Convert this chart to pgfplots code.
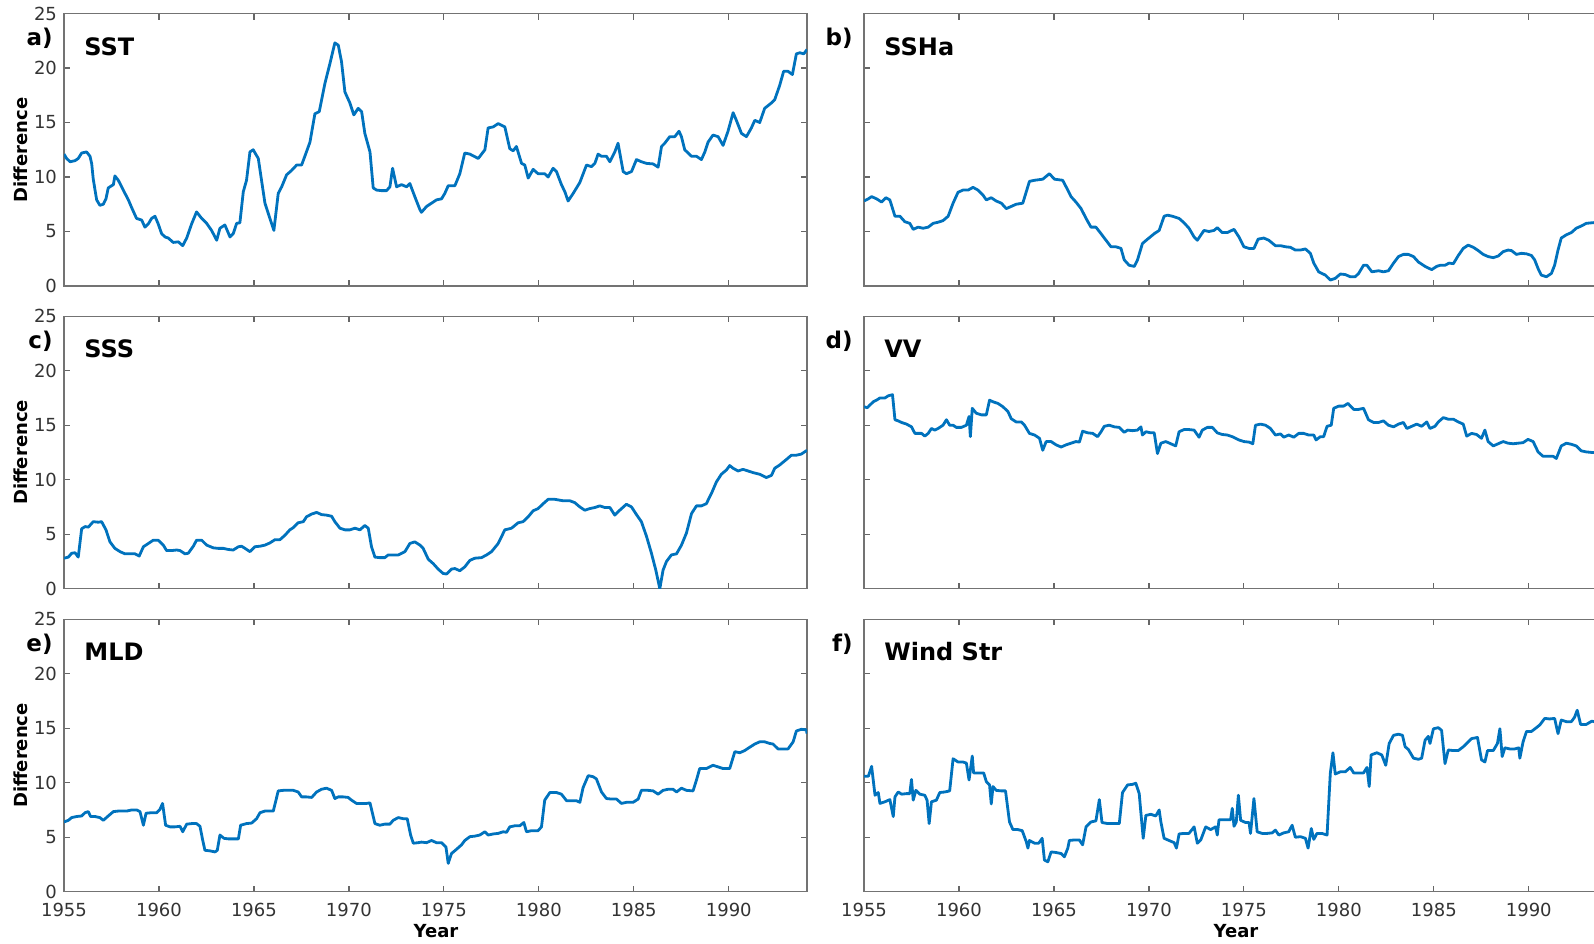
\documentclass[border=0pt]{standalone}
\usepackage{fontspec}
\setmainfont{DejaVu Sans}
\usepackage{pgfplots}
\pgfplotsset{compat=1.18}
\definecolor{mblue}{RGB}{0,114,189}
\pgfplotsset{
  panel/.style={
    scale only axis, width=371.5pt, height=136.25pt,
    anchor=south west,
    xmin=1955, xmax=1994.12, ymin=0, ymax=25,
    xtick={1955,1960,1965,1970,1975,1980,1985,1990},
    ytick={0,5,10,15,20,25},
    tick align=inside,
    major tick length=3pt,
    axis line style={draw=black!55, line width=0.6pt},
    every tick/.append style={draw=black!60, line width=0.6pt},
    tick label style={font=\fontsize{9}{10}\selectfont, text=black!80},
    /pgf/number format/assume math mode=true,
    xticklabels={},
  },
  ln/.style={draw=mblue, line width=1.4pt, line join=round, mark=none},
  bottomx/.style={xticklabels={1955,1960,1965,1970,1975,1980,1985,1990}, xticklabel style={yshift=-2pt}},
  noy/.style={yticklabels={}},
}
\newcommand\lett{\fontsize{11.5}{12}\selectfont\bfseries}
\newcommand\ttl{\fontsize{12}{13}\selectfont\bfseries}
\newcommand\lab{\fontsize{9}{10}\selectfont\bfseries}
\begin{document}
\begin{tikzpicture}
% a) SST
\begin{axis}[panel, at={(32pt,-143pt)}]
\addplot[ln] coordinates {
(1955.00,12.1)(1955.14,11.7)(1955.32,11.4)(1955.58,11.5)(1955.75,11.7)(1955.93,12.2)(1956.19,12.3)(1956.37,11.9)(1956.46,11.2)(1956.54,9.8)(1956.72,7.9)(1956.89,7.4)(1957.07,7.5)(1957.21,8.0)(1957.33,9.0)(1957.60,9.3)(1957.68,10.1)(1957.86,9.7)(1958.12,8.8)(1958.39,7.9)(1958.56,7.2)(1958.82,6.2)(1959.09,6.05)(1959.26,5.4)(1959.44,5.7)(1959.61,6.2)(1959.79,6.4)(1959.96,5.7)(1960.14,4.8)(1960.32,4.5)(1960.49,4.4)(1960.75,4.0)(1961.02,4.05)(1961.25,3.7)(1961.46,4.4)(1961.72,5.7)(1961.98,6.8)(1962.25,6.2)(1962.51,5.75)(1962.77,5.1)(1963.04,4.2)(1963.21,5.3)(1963.47,5.6)(1963.74,4.5)(1963.91,4.8)(1964.09,5.75)(1964.26,5.8)(1964.44,8.65)(1964.61,9.7)(1964.79,12.3)(1964.96,12.5)(1965.23,11.7)(1965.40,9.7)(1965.58,7.6)(1965.84,6.2)(1966.05,5.1)(1966.28,8.5)(1966.46,9.1)(1966.72,10.2)(1966.98,10.6)(1967.25,11.1)(1967.51,11.1)(1967.68,11.9)(1967.95,13.2)(1968.21,15.8)(1968.44,16.0)(1968.74,18.6)(1969.00,20.4)(1969.26,22.3)(1969.44,22.1)(1969.61,20.6)(1969.79,17.8)(1970.05,16.8)(1970.26,15.7)(1970.49,16.3)(1970.67,16.0)(1970.84,14.0)(1971.11,12.3)(1971.28,9.0)(1971.46,8.8)(1971.72,8.75)(1971.98,8.75)(1972.16,9.1)(1972.30,10.8)(1972.51,9.1)(1972.77,9.3)(1973.04,9.1)(1973.21,9.4)(1973.47,8.2)(1973.74,7.0)(1973.82,6.76)(1974.09,7.3)(1974.35,7.6)(1974.61,7.9)(1974.88,8.0)(1975.05,8.5)(1975.23,9.2)(1975.58,9.2)(1975.84,10.3)(1976.10,12.2)(1976.37,12.1)(1976.81,11.7)(1977.16,12.5)(1977.33,14.5)(1977.60,14.6)(1977.86,14.9)(1978.21,14.6)(1978.47,12.6)(1978.65,12.4)(1978.82,12.8)(1979.09,11.25)(1979.26,11.1)(1979.44,9.9)(1979.70,10.7)(1979.96,10.3)(1980.31,10.3)(1980.49,10.0)(1980.75,10.8)(1980.93,10.5)(1981.19,9.3)(1981.37,8.65)(1981.54,7.8)(1981.81,8.5)(1982.16,9.5)(1982.51,11.1)(1982.77,10.95)(1982.95,11.25)(1983.12,12.1)(1983.30,11.9)(1983.56,11.9)(1983.74,11.4)(1984.00,12.3)(1984.17,13.1)(1984.44,10.5)(1984.61,10.3)(1984.88,10.5)(1985.14,11.6)(1985.40,11.4)(1985.67,11.25)(1986.02,11.2)(1986.28,10.9)(1986.46,12.8)(1986.63,13.1)(1986.89,13.7)(1987.16,13.7)(1987.38,14.2)(1987.51,13.7)(1987.68,12.5)(1987.86,12.2)(1988.04,11.9)(1988.30,11.9)(1988.56,11.6)(1988.74,12.3)(1988.91,13.2)(1989.17,13.85)(1989.44,13.7)(1989.70,12.9)(1989.96,14.2)(1990.23,15.9)(1990.40,15.2)(1990.67,14.0)(1990.93,13.7)(1991.19,14.5)(1991.37,15.2)(1991.63,15.0)(1991.89,16.3)(1992.25,16.8)(1992.42,17.1)(1992.68,18.4)(1992.89,19.7)(1993.12,19.7)(1993.35,19.4)(1993.56,21.3)(1993.74,21.4)(1993.95,21.3)(1994.12,21.7)
};
\end{axis}
% b) SSHa
\begin{axis}[panel, noy, at={(432pt,-143pt)}]
\addplot[ln] coordinates {
(1955.00,7.8)(1955.23,8.0)(1955.40,8.2)(1955.66,8.0)(1955.93,7.7)(1956.15,8.1)(1956.36,7.9)(1956.63,6.4)(1956.89,6.4)(1957.15,5.9)(1957.41,5.75)(1957.59,5.2)(1957.85,5.4)(1958.11,5.3)(1958.38,5.4)(1958.64,5.75)(1958.90,5.85)(1959.16,6.0)(1959.43,6.4)(1959.69,7.6)(1959.95,8.6)(1960.21,8.8)(1960.48,8.8)(1960.74,9.05)(1961.00,8.8)(1961.26,8.35)(1961.44,7.9)(1961.70,8.1)(1961.96,7.8)(1962.23,7.6)(1962.49,7.1)(1962.75,7.3)(1963.01,7.5)(1963.36,7.6)(1963.71,9.6)(1963.98,9.7)(1964.41,9.8)(1964.76,10.3)(1965.03,9.8)(1965.46,9.7)(1965.64,9.1)(1965.90,8.2)(1966.16,7.7)(1966.43,7.1)(1966.69,6.2)(1966.95,5.4)(1967.21,5.4)(1967.48,4.8)(1967.74,4.2)(1968.00,3.6)(1968.26,3.6)(1968.53,3.45)(1968.70,2.4)(1968.96,1.9)(1969.23,1.8)(1969.40,2.4)(1969.66,3.9)(1969.93,4.3)(1970.28,4.8)(1970.54,5.1)(1970.80,6.4)(1970.98,6.5)(1971.24,6.4)(1971.59,6.2)(1971.85,5.8)(1972.11,5.3)(1972.38,4.5)(1972.55,4.2)(1972.90,5.1)(1973.16,5.0)(1973.43,5.1)(1973.60,5.35)(1973.86,4.9)(1974.13,4.9)(1974.48,5.2)(1974.74,4.5)(1975.00,3.6)(1975.27,3.45)(1975.53,3.45)(1975.75,4.3)(1976.05,4.4)(1976.31,4.2)(1976.66,3.7)(1976.93,3.7)(1977.19,3.6)(1977.45,3.55)(1977.71,3.3)(1977.98,3.3)(1978.24,3.4)(1978.50,3.0)(1978.68,2.1)(1978.94,1.3)(1979.29,1.0)(1979.55,0.55)(1979.81,0.7)(1980.08,1.1)(1980.34,1.05)(1980.60,0.85)(1980.86,0.85)(1981.04,1.15)(1981.30,1.9)(1981.48,1.9)(1981.74,1.3)(1982.09,1.4)(1982.35,1.3)(1982.61,1.4)(1982.88,2.1)(1983.14,2.7)(1983.40,2.9)(1983.66,2.9)(1983.93,2.7)(1984.19,2.2)(1984.54,1.8)(1984.89,1.5)(1985.15,1.8)(1985.33,1.9)(1985.59,1.9)(1985.80,2.1)(1986.03,2.05)(1986.29,2.8)(1986.55,3.45)(1986.81,3.75)(1987.08,3.55)(1987.34,3.25)(1987.60,2.9)(1987.86,2.7)(1988.13,2.6)(1988.39,2.75)(1988.65,3.15)(1988.91,3.3)(1989.09,3.25)(1989.35,2.9)(1989.61,3.0)(1989.88,2.95)(1990.14,2.8)(1990.31,2.4)(1990.49,1.6)(1990.66,1.0)(1990.93,0.85)(1991.19,1.15)(1991.36,1.9)(1991.54,3.3)(1991.71,4.4)(1991.98,4.7)(1992.24,4.9)(1992.50,5.3)(1992.76,5.5)(1993.03,5.75)(1993.32,5.8)(1993.70,5.85)(1994.10,5.9)
};
\end{axis}
% c) SSS
\begin{axis}[panel, at={(32pt,-294.35pt)}]
\addplot[ln] coordinates {
(1955.00,2.8)(1955.23,2.9)(1955.40,3.25)(1955.58,3.3)(1955.75,2.9)(1955.93,5.5)(1956.11,5.7)(1956.28,5.65)(1956.54,6.15)(1956.81,6.1)(1956.98,6.15)(1957.21,5.4)(1957.42,4.3)(1957.68,3.7)(1957.95,3.4)(1958.21,3.2)(1958.47,3.2)(1958.74,3.2)(1958.96,3.0)(1959.18,3.85)(1959.44,4.15)(1959.70,4.45)(1959.96,4.45)(1960.23,4.0)(1960.40,3.5)(1960.67,3.5)(1960.93,3.55)(1961.11,3.5)(1961.37,3.2)(1961.54,3.25)(1961.81,3.9)(1961.98,4.45)(1962.25,4.45)(1962.51,4.0)(1962.86,3.75)(1963.12,3.7)(1963.39,3.7)(1963.65,3.6)(1963.91,3.55)(1964.18,3.85)(1964.35,3.9)(1964.53,3.7)(1964.79,3.4)(1965.05,3.85)(1965.32,3.9)(1965.58,4.0)(1965.84,4.2)(1966.11,4.5)(1966.37,4.5)(1966.63,4.9)(1966.89,5.4)(1967.07,5.6)(1967.33,6.05)(1967.60,6.15)(1967.77,6.6)(1968.04,6.85)(1968.30,7.0)(1968.56,6.8)(1968.82,6.75)(1969.09,6.65)(1969.26,6.15)(1969.53,5.55)(1969.79,5.4)(1970.05,5.4)(1970.32,5.55)(1970.58,5.4)(1970.84,5.8)(1971.02,5.55)(1971.19,3.85)(1971.37,2.9)(1971.63,2.85)(1971.89,2.85)(1972.07,3.1)(1972.33,3.1)(1972.60,3.1)(1972.95,3.4)(1973.21,4.15)(1973.47,4.3)(1973.74,4.0)(1973.91,3.7)(1974.18,2.7)(1974.44,2.3)(1974.70,1.8)(1974.96,1.4)(1975.14,1.35)(1975.40,1.8)(1975.58,1.85)(1975.84,1.65)(1976.10,2.0)(1976.37,2.6)(1976.63,2.8)(1976.98,2.85)(1977.25,3.1)(1977.51,3.4)(1977.86,4.15)(1978.21,5.4)(1978.56,5.55)(1978.91,6.05)(1979.17,6.15)(1979.44,6.6)(1979.70,7.15)(1979.96,7.35)(1980.23,7.8)(1980.49,8.2)(1980.84,8.2)(1981.28,8.07)(1981.63,8.07)(1981.89,7.9)(1982.16,7.5)(1982.42,7.2)(1982.68,7.35)(1982.95,7.45)(1983.21,7.6)(1983.47,7.45)(1983.74,7.45)(1984.00,6.75)(1984.26,7.2)(1984.61,7.75)(1984.88,7.5)(1985.14,6.8)(1985.40,6.15)(1985.67,4.8)(1985.93,3.25)(1986.16,1.7)(1986.37,0.0)(1986.54,1.7)(1986.72,2.5)(1986.98,3.1)(1987.25,3.2)(1987.51,4.0)(1987.77,5.1)(1988.04,6.9)(1988.30,7.6)(1988.56,7.6)(1988.82,7.8)(1989.09,8.75)(1989.35,9.8)(1989.61,10.5)(1989.88,10.9)(1990.05,11.3)(1990.23,11.05)(1990.49,10.8)(1990.75,10.95)(1991.02,10.8)(1991.28,10.65)(1991.63,10.5)(1991.98,10.2)(1992.25,10.4)(1992.42,11.05)(1992.68,11.35)(1993.03,11.85)(1993.30,12.25)(1993.56,12.25)(1993.82,12.35)(1994.12,12.7)
};
\end{axis}
% d) VV
\begin{axis}[panel, noy, at={(432pt,-294.35pt)}]
\addplot[ln] coordinates {
(1955.00,16.7)(1955.17,16.6)(1955.31,16.85)(1955.49,17.15)(1955.66,17.3)(1955.84,17.5)(1956.10,17.5)(1956.28,17.7)(1956.50,17.8)(1956.63,15.5)(1956.80,15.4)(1956.98,15.25)(1957.24,15.1)(1957.50,14.85)(1957.68,14.25)(1957.85,14.25)(1958.03,14.25)(1958.20,14.0)(1958.38,14.25)(1958.55,14.7)(1958.73,14.55)(1958.90,14.7)(1959.16,15.0)(1959.34,15.5)(1959.51,15.0)(1959.69,15.0)(1959.86,14.8)(1960.13,14.8)(1960.39,15.0)(1960.53,15.8)(1960.60,13.95)(1960.70,16.55)(1960.91,16.1)(1961.18,15.95)(1961.44,15.95)(1961.61,17.3)(1961.79,17.15)(1962.05,17.0)(1962.31,16.7)(1962.58,16.25)(1962.75,15.6)(1963.01,15.3)(1963.28,15.3)(1963.45,15.0)(1963.71,14.25)(1963.98,14.1)(1964.24,13.8)(1964.41,12.7)(1964.59,13.5)(1964.85,13.5)(1965.11,13.2)(1965.38,13.0)(1965.64,13.2)(1965.90,13.35)(1966.16,13.5)(1966.34,13.45)(1966.51,14.45)(1966.78,14.3)(1967.04,14.25)(1967.30,13.95)(1967.48,14.4)(1967.65,14.9)(1967.91,15.0)(1968.18,14.85)(1968.44,14.8)(1968.70,14.35)(1968.88,14.55)(1969.14,14.5)(1969.40,14.55)(1969.58,14.85)(1969.66,14.1)(1969.84,14.4)(1970.10,14.3)(1970.28,14.3)(1970.45,12.4)(1970.63,13.35)(1970.89,13.5)(1971.15,13.3)(1971.41,13.1)(1971.59,14.4)(1971.85,14.6)(1972.11,14.6)(1972.38,14.55)(1972.64,13.9)(1972.81,14.55)(1973.08,14.8)(1973.34,14.8)(1973.60,14.3)(1973.86,14.15)(1974.13,14.1)(1974.39,13.95)(1974.74,13.65)(1975.00,13.5)(1975.27,13.45)(1975.47,13.3)(1975.61,15.0)(1975.88,15.1)(1976.14,15.0)(1976.40,14.7)(1976.66,14.1)(1976.93,14.2)(1977.10,13.9)(1977.36,14.1)(1977.63,13.9)(1977.89,14.25)(1978.15,14.25)(1978.41,14.1)(1978.68,14.1)(1978.80,13.65)(1979.03,13.95)(1979.20,13.95)(1979.38,14.9)(1979.60,15.0)(1979.73,16.55)(1979.99,16.75)(1980.25,16.75)(1980.48,17.0)(1980.78,16.45)(1981.04,16.45)(1981.30,16.55)(1981.56,15.5)(1981.83,15.25)(1982.09,15.25)(1982.35,15.4)(1982.61,15.0)(1982.88,14.85)(1983.14,15.1)(1983.40,15.25)(1983.58,14.7)(1983.84,14.9)(1984.10,15.1)(1984.36,14.9)(1984.63,15.3)(1984.80,14.7)(1985.06,14.9)(1985.24,15.3)(1985.50,15.7)(1985.76,15.55)(1986.03,15.55)(1986.29,15.3)(1986.55,15.1)(1986.73,14.0)(1986.99,14.25)(1987.25,14.15)(1987.51,13.8)(1987.69,14.55)(1987.86,13.5)(1988.13,13.1)(1988.39,13.3)(1988.65,13.5)(1988.91,13.35)(1989.18,13.3)(1989.44,13.35)(1989.70,13.4)(1989.96,13.7)(1990.23,13.5)(1990.49,12.55)(1990.75,12.15)(1991.01,12.15)(1991.28,12.15)(1991.45,11.95)(1991.71,13.1)(1991.98,13.35)(1992.24,13.25)(1992.50,13.1)(1992.76,12.65)(1993.03,12.55)(1993.32,12.5)(1993.70,12.5)(1994.10,12.45)
};
\end{axis}
% e) MLD
\begin{axis}[panel, bottomx, at={(32pt,-445.85pt)}]
\addplot[ln] coordinates {
(1955.00,6.4)(1955.23,6.55)(1955.40,6.8)(1955.67,6.9)(1955.93,6.95)(1956.11,7.25)(1956.28,7.35)(1956.40,6.9)(1956.63,6.9)(1956.89,6.8)(1957.07,6.55)(1957.33,6.95)(1957.60,7.35)(1957.86,7.4)(1958.12,7.4)(1958.30,7.4)(1958.56,7.5)(1958.82,7.5)(1959.00,7.35)(1959.18,6.1)(1959.32,7.2)(1959.61,7.25)(1959.88,7.25)(1960.05,7.55)(1960.19,8.1)(1960.35,6.1)(1960.58,5.95)(1960.84,5.95)(1961.11,6.0)(1961.25,5.5)(1961.46,6.2)(1961.72,6.25)(1961.98,6.25)(1962.16,6.0)(1962.30,4.75)(1962.42,3.8)(1962.68,3.75)(1962.95,3.65)(1963.07,3.8)(1963.21,5.2)(1963.42,4.9)(1963.65,4.85)(1963.91,4.85)(1964.18,4.85)(1964.30,6.1)(1964.61,6.25)(1964.88,6.3)(1965.14,6.7)(1965.32,7.25)(1965.58,7.4)(1965.84,7.4)(1966.02,7.4)(1966.28,9.25)(1966.54,9.3)(1966.81,9.3)(1967.07,9.3)(1967.33,9.15)(1967.51,8.7)(1967.77,8.7)(1968.04,8.65)(1968.30,9.15)(1968.56,9.4)(1968.82,9.5)(1969.09,9.3)(1969.26,8.55)(1969.44,8.7)(1969.70,8.7)(1969.96,8.65)(1970.14,8.4)(1970.40,8.1)(1970.67,8.1)(1970.93,8.1)(1971.11,8.15)(1971.37,6.25)(1971.63,6.1)(1971.89,6.2)(1972.16,6.2)(1972.33,6.55)(1972.60,6.8)(1972.86,6.7)(1973.07,6.7)(1973.25,5.2)(1973.39,4.45)(1973.65,4.5)(1973.82,4.55)(1974.09,4.5)(1974.35,4.7)(1974.61,4.5)(1974.88,4.5)(1975.11,4.1)(1975.23,2.6)(1975.40,3.5)(1975.67,3.9)(1975.93,4.3)(1976.10,4.7)(1976.37,5.05)(1976.63,5.1)(1976.89,5.2)(1977.16,5.5)(1977.33,5.2)(1977.60,5.3)(1977.86,5.35)(1978.12,5.5)(1978.30,5.45)(1978.47,5.95)(1978.74,6.05)(1979.00,6.05)(1979.21,6.35)(1979.35,5.5)(1979.61,5.6)(1979.96,5.6)(1980.14,5.95)(1980.31,8.4)(1980.58,9.1)(1980.93,9.1)(1981.19,8.95)(1981.46,8.35)(1981.72,8.35)(1981.98,8.35)(1982.16,8.2)(1982.33,9.55)(1982.60,10.65)(1982.86,10.55)(1983.03,10.35)(1983.30,9.15)(1983.56,8.55)(1983.82,8.5)(1984.09,8.5)(1984.35,8.1)(1984.61,8.2)(1984.96,8.2)(1985.23,8.5)(1985.40,9.3)(1985.75,9.3)(1986.02,9.25)(1986.28,8.95)(1986.54,9.3)(1986.81,9.4)(1987.07,9.4)(1987.25,9.15)(1987.51,9.5)(1987.77,9.3)(1988.12,9.25)(1988.30,10.25)(1988.47,11.3)(1988.82,11.3)(1989.17,11.6)(1989.44,11.45)(1989.70,11.3)(1990.05,11.3)(1990.32,12.85)(1990.58,12.75)(1990.84,12.95)(1991.10,13.25)(1991.37,13.55)(1991.63,13.75)(1991.89,13.75)(1992.16,13.6)(1992.33,13.55)(1992.59,13.1)(1992.86,13.1)(1993.12,13.1)(1993.39,13.75)(1993.56,14.75)(1993.82,14.9)(1994.09,14.85)(1994.12,14.5)
};
\end{axis}
% f) Wind Str
\begin{axis}[panel, noy, bottomx, at={(432pt,-445.85pt)}]
\addplot[ln] coordinates {
(1955.00,10.6)(1955.23,10.6)(1955.40,11.5)(1955.58,8.85)(1955.75,9.1)(1955.84,8.1)(1956.10,8.25)(1956.36,8.45)(1956.54,6.9)(1956.63,8.7)(1956.80,9.15)(1956.98,8.95)(1957.24,9.0)(1957.41,9.0)(1957.50,10.3)(1957.59,8.4)(1957.73,9.3)(1957.94,8.95)(1958.20,8.85)(1958.32,8.4)(1958.43,6.25)(1958.55,8.25)(1958.81,8.4)(1958.99,9.1)(1959.25,9.15)(1959.51,9.25)(1959.69,12.2)(1959.95,11.9)(1960.21,11.9)(1960.39,11.8)(1960.53,10.25)(1960.70,12.45)(1960.77,10.9)(1961.00,10.9)(1961.30,10.9)(1961.44,10.1)(1961.61,9.8)(1961.70,8.05)(1961.79,9.65)(1961.96,9.3)(1962.23,9.25)(1962.45,9.25)(1962.66,6.4)(1962.84,5.7)(1963.10,5.7)(1963.33,5.6)(1963.54,4.6)(1963.63,4.0)(1963.71,4.7)(1963.98,4.45)(1964.20,4.45)(1964.38,4.9)(1964.50,2.9)(1964.68,2.75)(1964.85,3.65)(1965.11,3.6)(1965.38,3.5)(1965.55,3.2)(1965.73,4.0)(1965.81,4.7)(1966.08,4.75)(1966.34,4.75)(1966.51,4.3)(1966.69,5.95)(1966.95,6.4)(1967.21,6.5)(1967.39,8.45)(1967.53,6.35)(1967.83,6.25)(1968.09,6.25)(1968.44,6.25)(1968.61,9.1)(1968.88,9.8)(1969.14,9.85)(1969.31,9.95)(1969.49,9.0)(1969.58,7.2)(1969.70,4.9)(1969.84,7.0)(1970.10,7.1)(1970.36,6.95)(1970.54,7.5)(1970.63,6.4)(1970.80,4.9)(1971.06,4.7)(1971.33,4.5)(1971.45,4.0)(1971.59,5.3)(1971.85,5.35)(1972.11,5.35)(1972.38,5.95)(1972.55,4.45)(1972.73,4.75)(1972.99,5.95)(1973.25,5.7)(1973.51,5.95)(1973.60,5.2)(1973.69,6.6)(1973.95,6.6)(1974.30,6.6)(1974.39,7.65)(1974.48,6.0)(1974.60,6.4)(1974.71,8.85)(1974.83,6.55)(1975.09,6.35)(1975.27,6.35)(1975.35,5.35)(1975.53,8.55)(1975.70,5.5)(1975.96,5.35)(1976.23,5.35)(1976.49,5.4)(1976.66,5.65)(1976.84,5.2)(1977.10,5.4)(1977.36,5.5)(1977.54,6.1)(1977.71,5.0)(1977.98,5.05)(1978.24,4.9)(1978.38,4.0)(1978.55,5.8)(1978.68,4.8)(1978.85,5.35)(1979.11,5.35)(1979.38,5.2)(1979.55,10.85)(1979.69,12.75)(1979.81,10.8)(1980.08,11.0)(1980.34,11.0)(1980.60,11.4)(1980.78,10.9)(1981.04,10.9)(1981.30,10.9)(1981.48,11.4)(1981.60,9.65)(1981.70,12.55)(1982.00,12.75)(1982.26,12.55)(1982.47,11.6)(1982.65,13.6)(1982.88,14.35)(1983.14,14.45)(1983.35,14.35)(1983.49,13.3)(1983.66,13.05)(1983.93,12.25)(1984.19,12.15)(1984.36,12.25)(1984.54,13.9)(1984.71,14.25)(1984.80,13.6)(1984.98,14.95)(1985.24,15.05)(1985.41,14.8)(1985.59,11.75)(1985.76,13.0)(1986.03,12.95)(1986.29,12.95)(1986.55,13.3)(1986.73,13.6)(1986.99,14.05)(1987.30,14.15)(1987.51,12.1)(1987.69,11.9)(1987.83,12.95)(1988.13,12.95)(1988.35,13.6)(1988.48,14.95)(1988.60,12.4)(1988.74,13.2)(1989.00,13.1)(1989.26,13.1)(1989.47,13.2)(1989.53,12.25)(1989.70,13.75)(1989.88,14.7)(1990.14,14.7)(1990.40,15.05)(1990.58,15.3)(1990.84,15.9)(1991.10,15.85)(1991.36,15.9)(1991.54,14.5)(1991.71,15.75)(1991.98,15.6)(1992.24,15.6)(1992.41,16.0)(1992.55,16.65)(1992.73,15.35)(1993.03,15.35)(1993.32,15.65)(1993.70,15.5)(1994.10,15.6)
};
\end{axis}
% panel letters and titles
\node[anchor=base east, inner sep=0pt] at (26.5pt,-22.85pt) {\lett a)};
\node[anchor=base west, inner sep=0pt] at (42pt,-27.5pt) {\ttl SST};
\node[anchor=base east, inner sep=0pt] at (426.5pt,-22.85pt) {\lett b)};
\node[anchor=base west, inner sep=0pt] at (442pt,-27.5pt) {\ttl SSHa};
\node[anchor=base east, inner sep=0pt] at (26.5pt,-174.1pt) {\lett c)};
\node[anchor=base west, inner sep=0pt] at (42pt,-178.75pt) {\ttl SSS};
\node[anchor=base east, inner sep=0pt] at (426.5pt,-174.1pt) {\lett d)};
\node[anchor=base west, inner sep=0pt] at (442pt,-178.75pt) {\ttl VV};
\node[anchor=base east, inner sep=0pt] at (26.5pt,-325.75pt) {\lett e)};
\node[anchor=base west, inner sep=0pt] at (42pt,-330.4pt) {\ttl MLD};
\node[anchor=base east, inner sep=0pt] at (426.5pt,-325.75pt) {\lett f)};
\node[anchor=base west, inner sep=0pt] at (442pt,-330.4pt) {\ttl Wind Str};
% y labels
\node[rotate=90, inner sep=0pt] at (10.25pt,-75pt) {\lab Difference};
\node[rotate=90, inner sep=0pt] at (10.25pt,-226.2pt) {\lab Difference};
\node[rotate=90, inner sep=0pt] at (10.25pt,-377.75pt) {\lab Difference};
% x labels
\node[anchor=base, inner sep=0pt] at (218pt,-468.5pt) {\lab Year};
\node[anchor=base, inner sep=0pt] at (618pt,-468.5pt) {\lab Year};
\pgfresetboundingbox
\path[use as bounding box] (0,0) rectangle (797pt,-471.5pt);
\end{tikzpicture}
\end{document}
